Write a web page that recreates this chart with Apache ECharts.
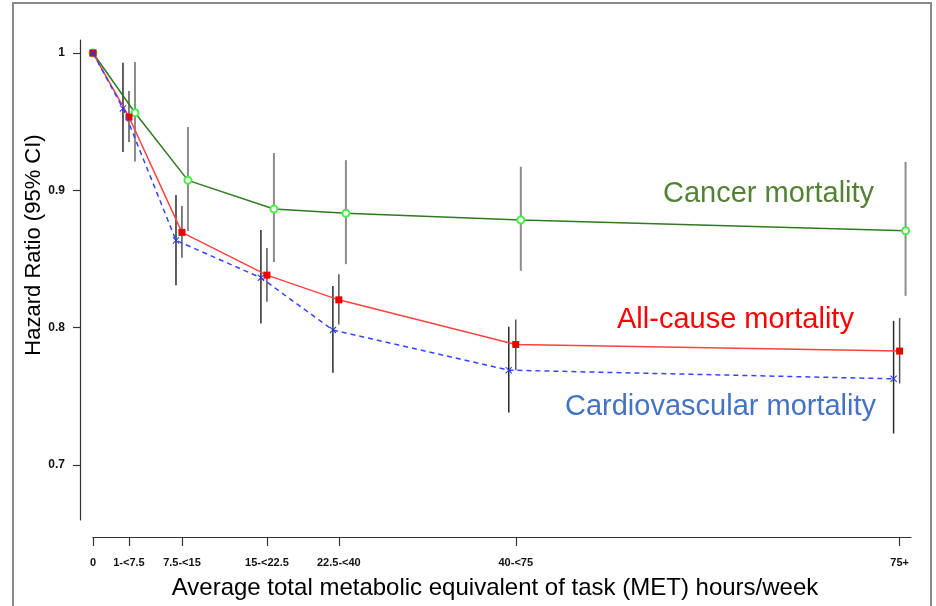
<!DOCTYPE html>
<html>
<head>
	<meta charset="utf-8">
	<title>Hazard ratio by MET hours/week</title>
	<style type="text/css">
		html,body{ margin:0; padding:0; width:100%; height:100%; background:#fff; }
		#main{ width:936px; height:606px; }
	</style>
</head>
<body>
<div id="main"></div>
<script src="https://cdn.jsdelivr.net/npm/echarts@6/dist/echarts.min.js"></script>
<script>
    // x tick positions (MET scale) and their labels
    var tickPos = [0, 4.84, 11.96, 23.39, 33.06, 56.85, 108.47];
    var tickLabels = ['0', '1-<7.5', '7.5-<15', '15-<22.5', '22.5-<40', '40-<75', '75+'];
    var yTicks = [0.7, 0.8, 0.9, 1];

    // all-cause mortality
    var allX  = [0, 4.84, 11.96, 23.39, 33.06, 56.85, 108.47];
    var allHR = [1.0, 0.9534, 0.8694, 0.8383, 0.8203, 0.7878, 0.783];
    var allLo = [null, 0.9352, 0.8509, 0.8189, 0.8024, 0.7691, 0.7594];
    var allHi = [null, 0.9723, 0.8886, 0.858, 0.839, 0.806, 0.8072];

    // cancer mortality
    var cancerX  = [0, 5.65, 12.77, 24.33, 34.01, 57.53, 109.27];
    var cancerHR = [1.0, 0.9565, 0.9073, 0.8864, 0.8833, 0.8784, 0.8706];
    var cancerLo = [null, 0.921, 0.8704, 0.8478, 0.8463, 0.8414, 0.8232];
    var cancerHi = [null, 0.9934, 0.9461, 0.9272, 0.922, 0.9172, 0.9208];

    // cardiovascular mortality
    var cvdX  = [0, 4.03, 11.16, 22.58, 32.26, 55.91, 107.66];
    var cvdHR = [1.0, 0.9597, 0.8636, 0.8364, 0.7983, 0.7691, 0.7628];
    var cvdLo = [null, 0.928, 0.831, 0.8031, 0.7672, 0.7383, 0.723];
    var cvdHi = [null, 0.993, 0.8966, 0.8711, 0.8303, 0.8007, 0.805];

    var sans = '"Liberation Sans", Arial, sans-serif';

    function pairs(xs, ys) {
        var out = [];
        for (var i = 0; i < xs.length; i++) out.push([xs[i], ys[i]]);
        return out;
    }
    function bars(xs, lo, hi) {
        var out = [];
        for (var i = 0; i < xs.length; i++) {
            if (lo[i] != null) out.push([xs[i], lo[i], hi[i]]);
        }
        return out;
    }
    // vertical CI line for each point
    function errorSeries(xs, lo, hi, color, width) {
        return {
            type: 'custom',
            silent: true,
            z: 1,
            data: bars(xs, lo, hi),
            renderItem: function (params, api) {
                var a = api.coord([api.value(0), api.value(1)]);
                var b = api.coord([api.value(0), api.value(2)]);
                return {
                    type: 'line',
                    shape: { x1: a[0], y1: a[1], x2: b[0], y2: b[1] },
                    style: { stroke: color, lineWidth: width }
                };
            }
        };
    }

    var crossPath = 'path://M0,1 L1,0 L5,4 L9,0 L10,1 L6,5 L10,9 L9,10 L5,6 L1,10 L0,9 L4,5 Z';

    var myChart = echarts.init(document.getElementById('main'));
    var option = {
        animation: false,
        backgroundColor: '#fff',
        grid: { left: 93, right: 25, top: 40, bottom: 86 },
        xAxis: {
            type: 'value',
            min: 0,
            max: 110,
            offset: 17,
            splitLine: { show: false },
            axisLine: { show: true, onZero: false, lineStyle: { color: '#333', width: 1.2 } },
            axisTick: { show: true, length: 9, customValues: tickPos, lineStyle: { color: '#333', width: 1.2 } },
            axisLabel: {
                customValues: tickPos,
                margin: 20,
                fontFamily: sans,
                fontWeight: 'bold',
                fontSize: 11,
                color: '#111',
                formatter: function (v) {
                    var i = tickPos.indexOf(v);
                    return i >= 0 ? tickLabels[i] : '';
                }
            }
        },
        yAxis: {
            type: 'value',
            min: 0.66,
            max: 1.0095,
            offset: 13,
            splitLine: { show: false },
            axisLine: { show: true, onZero: false, lineStyle: { color: '#333', width: 1.2 } },
            axisTick: { show: true, length: 7, customValues: yTicks, lineStyle: { color: '#333', width: 1.2 } },
            axisLabel: {
                customValues: yTicks,
                margin: 15,
                fontFamily: sans,
                fontWeight: 'bold',
                fontSize: 12,
                color: '#111'
            }
        },
        graphic: [
            {
                type: 'rect',
                shape: { x: 13, y: 3, width: 918, height: 640 },
                style: { fill: 'none', stroke: '#8a8a8a', lineWidth: 2 },
                silent: true
            },
            {
                type: 'text', x: 34, y: 245, rotation: Math.PI / 2,
                style: { text: 'Hazard Ratio (95% CI)', font: '22px ' + sans, fill: '#000', align: 'center', verticalAlign: 'middle' }
            },
            {
                type: 'text', x: 495, y: 588,
                style: { text: 'Average total metabolic equivalent of task (MET) hours/week', font: '24px ' + sans, fill: '#000', align: 'center', verticalAlign: 'middle' }
            },
            {
                type: 'text', x: 663, y: 194,
                style: { text: 'Cancer mortality', font: '29px ' + sans, fill: '#548235', verticalAlign: 'middle' }
            },
            {
                type: 'text', x: 617, y: 320,
                style: { text: 'All-cause mortality', font: '29px ' + sans, fill: '#ff0000', verticalAlign: 'middle' }
            },
            {
                type: 'text', x: 565, y: 407,
                style: { text: 'Cardiovascular mortality', font: '29px ' + sans, fill: '#4472c4', verticalAlign: 'middle' }
            }
        ],
        series: [
            errorSeries(cancerX, cancerLo, cancerHi, '#8c8c8c', 2),
            errorSeries(allX, allLo, allHi, '#555555', 1.5),
            errorSeries(cvdX, cvdLo, cvdHi, '#2a2a2a', 1.5),
            {
                name: 'Cancer mortality',
                type: 'line',
                z: 3,
                data: pairs(cancerX, cancerHR),
                symbol: 'emptyCircle',
                symbolSize: 7,
                lineStyle: { color: '#2f7a1e', width: 1.5 },
                itemStyle: { color: '#44ee44', borderColor: '#44ee44', borderWidth: 1.2 }
            },
            {
                name: 'All-cause mortality',
                type: 'line',
                z: 4,
                data: pairs(allX, allHR),
                symbol: 'rect',
                symbolSize: 7,
                lineStyle: { color: '#ff4040', width: 1.5 },
                itemStyle: { color: '#ee0000' }
            },
            {
                name: 'Cardiovascular mortality',
                type: 'line',
                z: 5,
                data: pairs(cvdX, cvdHR),
                symbol: crossPath,
                symbolSize: 7,
                lineStyle: { color: '#3344ff', width: 1.5, type: [5, 4] },
                itemStyle: { color: '#2233ee' }
            }
        ]
    };
    myChart.setOption(option);
</script>
</body>
</html>
